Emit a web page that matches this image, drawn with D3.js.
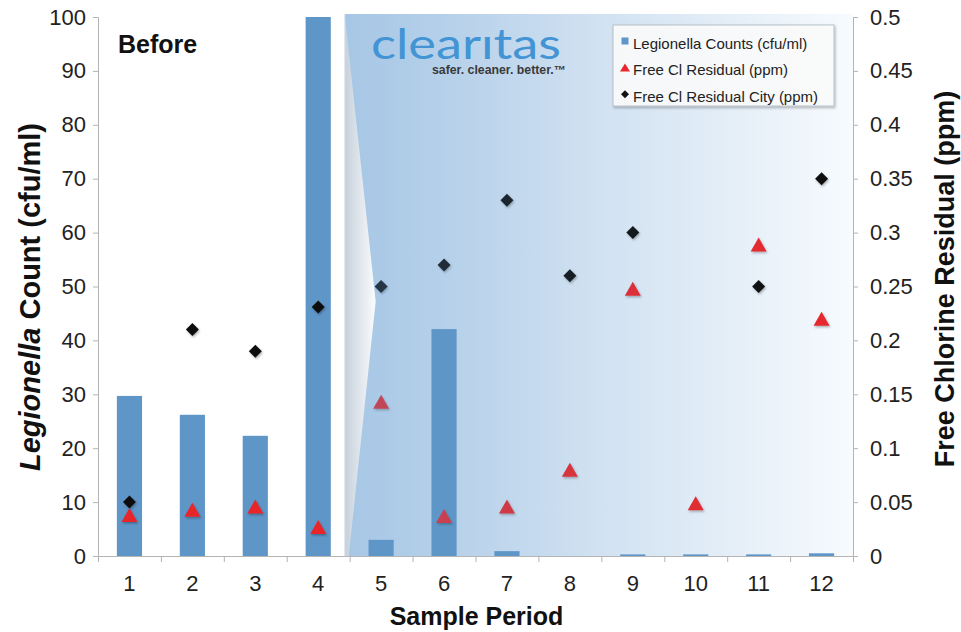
<!DOCTYPE html>
<html>
<head>
    <title>Legionella count and free chlorine residual by sample period</title>
    <script src="https://d3js.org/d3.v7.min.js"></script>
    <style>
        body { margin: 0; background: #fff; }
        svg { display: block; font-family: "Liberation Sans", Arial, Helvetica, sans-serif; }
        .axis path, .axis line { stroke: #b4b4b4; }
        .axis text { fill: #222; font-size: 22px; }
    </style>
</head>
<body>
    <svg id="chart" width="961" height="632"></svg>

    <script type="text/javascript">
        // chart data
        var categories = ["1", "2", "3", "4", "5", "6", "7", "8", "9", "10", "11", "12"];
        var legionella = [29.7, 26.2, 22.3, 100, 3.0, 42.1, 0.9, 0, 0.3, 0.3, 0.3, 0.5];
        var freeCl = [0.038, 0.043, 0.046, 0.027, 0.143, 0.037, 0.046, 0.08, 0.248, 0.049, 0.289, 0.22];
        var freeClCity = [0.05, 0.21, 0.19, 0.231, 0.25, 0.27, 0.33, 0.26, 0.30, null, 0.25, 0.35];
        var leftTicks = [0, 10, 20, 30, 40, 50, 60, 70, 80, 90, 100];
        var rightTicks = [0, 0.05, 0.1, 0.15, 0.2, 0.25, 0.3, 0.35, 0.4, 0.45, 0.5];
        var legendLabels = ["Legionella Counts (cfu/ml)", "Free Cl Residual (ppm)", "Free Cl Residual City (ppm)"];

        var svg = d3.select("#chart");
        var plotLeft = 98, plotRight = 853, plotTop = 17, plotBottom = 556;

        var x = d3.scaleBand().domain(categories).range([plotLeft, plotRight])
            .paddingInner(0.6).paddingOuter(0.3);
        var xEdge = d3.scaleLinear().domain([0, categories.length]).range([plotLeft, plotRight]);
        var yL = d3.scaleLinear().domain([0, 100]).range([plotBottom, plotTop]);
        var yR = d3.scaleLinear().domain([0, 0.5]).range([plotBottom, plotTop]);

        var barColor = "#5f96c8";
        var defs = svg.append("defs");

        var bg = defs.append("linearGradient").attr("id", "bgGrad");
        bg.append("stop").attr("offset", "0").attr("stop-color", "rgb(199,221,243)");
        bg.append("stop").attr("offset", "0.5").attr("stop-color", "rgb(222,234,246)");
        bg.append("stop").attr("offset", "1").attr("stop-color", "rgb(247,251,254)");

        var ov = defs.append("linearGradient").attr("id", "ovGrad");
        ov.append("stop").attr("offset", "0").attr("stop-color", barColor).attr("stop-opacity", 0.32);
        ov.append("stop").attr("offset", "0.5").attr("stop-color", barColor).attr("stop-opacity", 0.1);
        ov.append("stop").attr("offset", "1").attr("stop-color", barColor).attr("stop-opacity", 0);

        var wg = defs.append("linearGradient").attr("id", "wedgeGrad");
        wg.append("stop").attr("offset", "0").attr("stop-color", "#c6d0db");
        wg.append("stop").attr("offset", "1").attr("stop-color", "#fbfcfd");

        var sh = defs.append("filter").attr("id", "shadow")
            .attr("x", "-50%").attr("y", "-50%").attr("width", "200%").attr("height", "200%");
        sh.append("feDropShadow").attr("dx", 1).attr("dy", 1.5)
            .attr("stdDeviation", 1).attr("flood-color", "#000").attr("flood-opacity", 0.3);

        // "after" panel behind the bars
        var panelX = xEdge(4) - 5;
        var panelTop = plotTop - 3, panelBottom = plotBottom + 1;
        svg.append("rect")
            .attr("x", panelX).attr("y", panelTop)
            .attr("width", plotRight - panelX).attr("height", panelBottom - panelTop)
            .attr("fill", "url(#bgGrad)");

        // bars
        svg.append("g").selectAll("rect")
            .data(legionella)
            .enter().append("rect")
            .attr("x", function(d, i) { return x(categories[i]); })
            .attr("y", function(d) { return yL(d); })
            .attr("width", x.bandwidth())
            .attr("height", function(d) { return yL(0) - yL(d); })
            .attr("fill", barColor);

        var tri = "M0,-7L8,7L-8,7Z";
        var diamond = "M0,-6.5L6.5,0L0,6.5L-6.5,0Z";

        svg.append("g").selectAll("path")
            .data(freeClCity.map(function(v, i) { return { c: categories[i], v: v }; })
                .filter(function(d) { return d.v !== null; }))
            .enter().append("path")
            .attr("d", diamond)
            .attr("fill", "#111")
            .attr("filter", "url(#shadow)")
            .attr("transform", function(d) {
                return "translate(" + (x(d.c) + x.bandwidth() / 2) + "," + yR(d.v) + ")";
            });

        svg.append("g").selectAll("path")
            .data(freeCl)
            .enter().append("path")
            .attr("d", tri)
            .attr("fill", "#e8262c")
            .attr("filter", "url(#shadow)")
            .attr("transform", function(d, i) {
                return "translate(" + (x(categories[i]) + x.bandwidth() / 2) + "," + yR(d) + ")";
            });

        // translucent tint over the markers, then the folded edge
        svg.append("rect")
            .attr("x", panelX).attr("y", panelTop)
            .attr("width", plotRight - panelX).attr("height", panelBottom - panelTop)
            .attr("fill", "url(#ovGrad)");

        var tip = yL(50) + 15;
        svg.append("path")
            .attr("d", "M" + panelX + "," + panelTop + "L" + (panelX + 31) + "," + tip +
                "L" + (panelX + 4) + "," + panelBottom + "L" + panelX + "," + panelBottom + "Z")
            .attr("fill", "url(#wedgeGrad)");
        svg.append("line")
            .attr("x1", panelX).attr("x2", panelX).attr("y1", panelTop).attr("y2", panelBottom)
            .attr("stroke", "#e4e9ef");

        // axes
        svg.append("g").attr("class", "axis")
            .attr("transform", "translate(" + plotLeft + ",0)")
            .call(d3.axisLeft(yL).tickValues(leftTicks).tickSize(5).tickPadding(7));

        svg.append("g").attr("class", "axis")
            .attr("transform", "translate(" + plotRight + ",0)")
            .call(d3.axisRight(yR).tickValues(rightTicks).tickSize(5).tickPadding(12)
                .tickFormat(function(d) { return d === 0 ? "0" : String(+d.toFixed(2)); }));

        svg.append("g").attr("class", "axis")
            .attr("transform", "translate(0," + plotBottom + ")")
            .call(d3.axisBottom(xEdge).ticks(12).tickSize(6).tickFormat(""));

        var xl = svg.append("g").attr("class", "axis")
            .attr("transform", "translate(0," + plotBottom + ")")
            .call(d3.axisBottom(x).tickSize(0).tickPadding(19));
        xl.select(".domain").remove();

        // titles
        svg.append("text")
            .attr("x", (plotLeft + plotRight) / 2 + 1).attr("y", 625)
            .attr("text-anchor", "middle")
            .style("font-size", "25px").style("font-weight", "bold").style("fill", "#111")
            .text("Sample Period");

        var lt = svg.append("text")
            .attr("transform", "translate(30,297) rotate(-90)")
            .attr("text-anchor", "middle").attr("dominant-baseline", "central")
            .style("font-size", "29px").style("font-weight", "bold").style("fill", "#111");
        lt.append("tspan").style("font-style", "italic").text("Legionella");
        lt.append("tspan").text(" Count (cfu/ml)");

        svg.append("text")
            .attr("transform", "translate(945,279) rotate(-90)")
            .attr("text-anchor", "middle").attr("dominant-baseline", "central")
            .style("font-size", "27px").style("font-weight", "bold").style("fill", "#111")
            .text("Free Chlorine Residual (ppm)");

        svg.append("text")
            .attr("x", 118).attr("y", 53)
            .style("font-size", "25px").style("font-weight", "bold").style("fill", "#111")
            .text("Before");

        // logo
        var logo = svg.append("g");
        logo.append("text")
            .attr("x", 371).attr("y", 59)
            .attr("textLength", 190).attr("lengthAdjust", "spacingAndGlyphs")
            .style("font-family", "Lato, 'Open Sans', sans-serif")
            .style("font-weight", 400).style("font-size", "42px").style("fill", "#4394d4")
            .text("clearıtas");
        logo.append("text")
            .attr("x", 432).attr("y", 74)
            .attr("textLength", 134).attr("lengthAdjust", "spacingAndGlyphs")
            .style("font-size", "12px").style("font-weight", "bold").style("fill", "#3a3a3a")
            .text("safer. cleaner. better.™");

        // legend
        var lg = svg.append("g");
        lg.append("rect")
            .attr("x", 613).attr("y", 25).attr("width", 221).attr("height", 81)
            .attr("fill", "rgba(255,255,255,0.85)").attr("stroke", "#b8bfc7")
            .attr("filter", "url(#shadow)");
        var rows = lg.selectAll("g.row")
            .data(legendLabels)
            .enter().append("g").attr("class", "row")
            .attr("transform", function(d, i) { return "translate(625," + (43 + i * 26.6) + ")"; });
        rows.append("path")
            .attr("d", function(d, i) {
                if (i === 0) return "M-3.5,-5.5h7v7h-7Z";
                if (i === 1) return "M0,-6L5,2L-5,2Z";
                return "M0,-6L4,-2L0,2L-4,-2Z";
            })
            .attr("fill", function(d, i) { return ["#5f96c8", "#e8262c", "#111"][i]; });
        rows.append("text")
            .attr("x", 8).attr("y", 0)
            .attr("dominant-baseline", "central")
            .style("font-size", "15px").style("fill", "#222")
            .text(function(d) { return d; });
    </script>
</body>
</html>
